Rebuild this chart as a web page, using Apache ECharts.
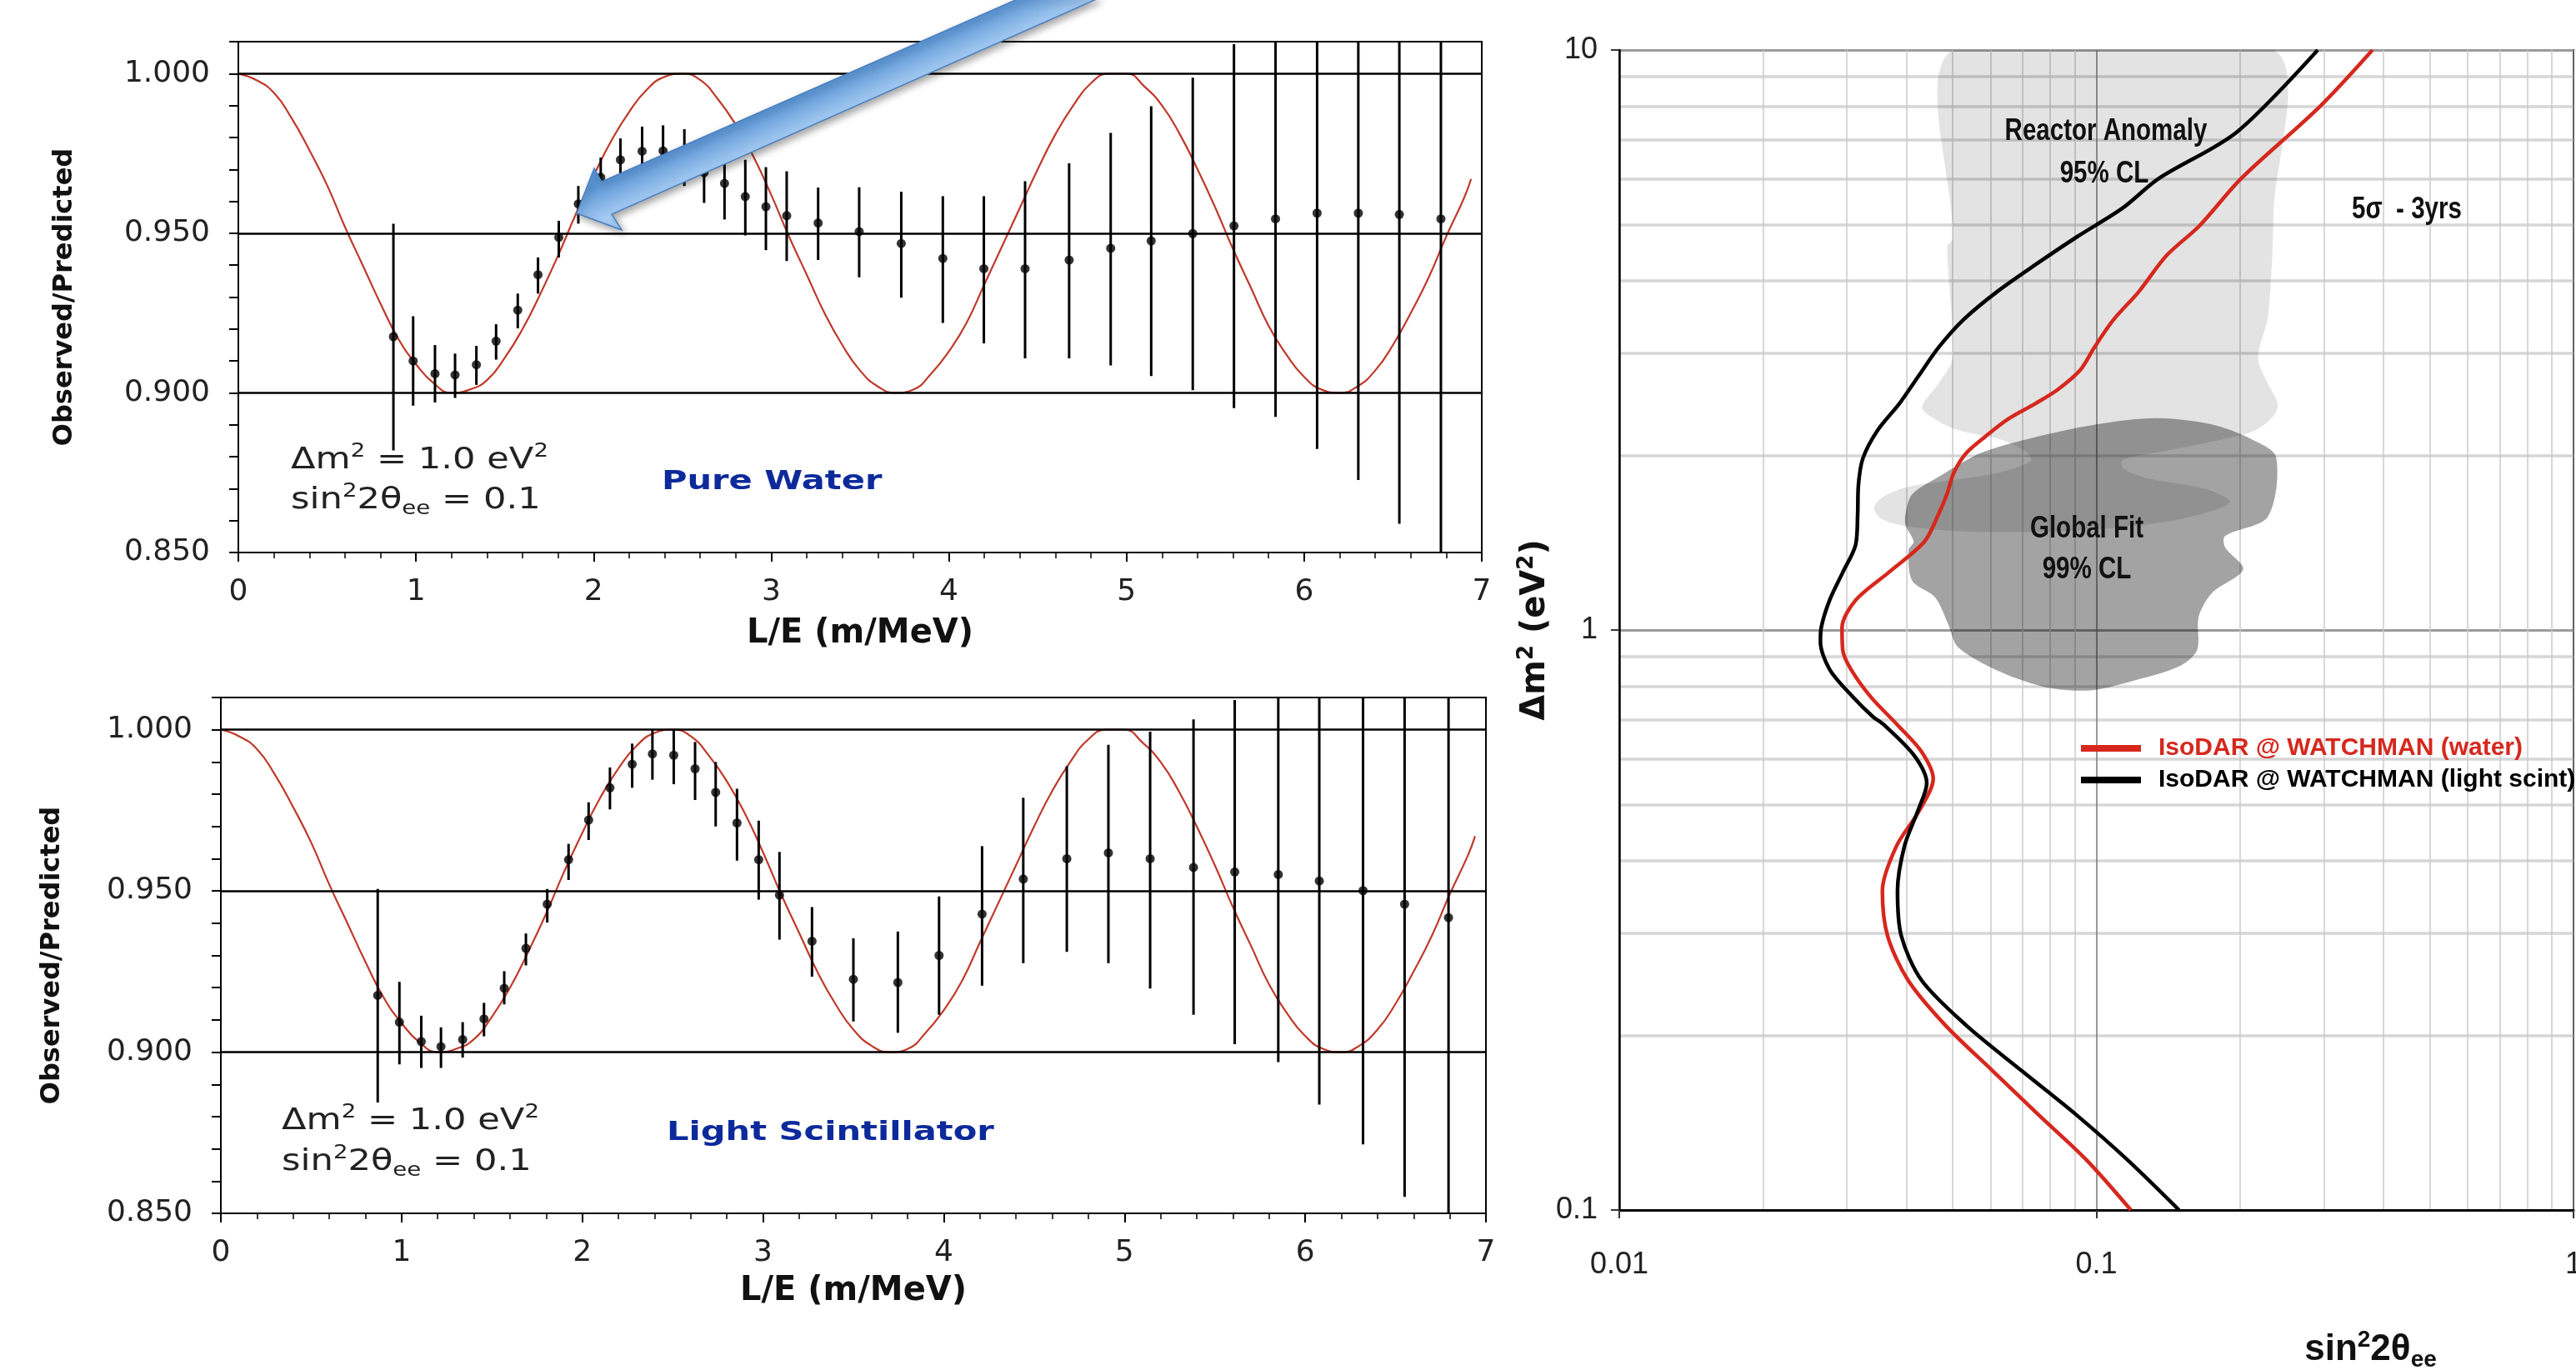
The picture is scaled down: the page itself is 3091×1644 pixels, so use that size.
<!DOCTYPE html>
<html>
<head>
<meta charset="utf-8">
<title>IsoDAR @ WATCHMAN</title>
<script src="https://cdn.jsdelivr.net/npm/echarts@6/dist/echarts.min.js"></script>
<style>
html, body { margin: 0; padding: 0; background: #fff; }
#chart { width: 3091px; height: 1644px; }
</style>
</head>
<body>
<div id="chart"></div>
<script>
// oscillation curve (same in both panels)
const curveLE = [0, 0.1, 0.2, 0.3, 0.4, 0.5, 0.6, 0.7, 0.8, 0.9,
  1.0, 1.1, 1.2, 1.3, 1.4, 1.5, 1.6, 1.7, 1.8, 1.9,
  2.0, 2.1, 2.2, 2.3, 2.4, 2.5, 2.6, 2.7, 2.8, 2.9,
  3.0, 3.1, 3.2, 3.3, 3.4, 3.5, 3.6, 3.7, 3.8, 3.9,
  4.0, 4.1, 4.2, 4.3, 4.4, 4.5, 4.6, 4.7, 4.8, 4.9,
  5.0, 5.1, 5.2, 5.3, 5.4, 5.5, 5.6, 5.7, 5.8, 5.9,
  6.0, 6.1, 6.2, 6.3, 6.4, 6.5, 6.6, 6.7, 6.8, 6.9, 6.94];
const curveRatio = [1.000, 0.998, 0.994, 0.986, 0.976, 0.965, 0.952, 0.940, 0.928, 0.917,
  0.909, 0.903, 0.900, 0.901, 0.904, 0.911, 0.920, 0.931, 0.943, 0.956,
  0.968, 0.979, 0.988, 0.995, 0.999, 1.000, 0.998, 0.992, 0.984, 0.974,
  0.962, 0.949, 0.937, 0.925, 0.915, 0.907, 0.902, 0.900, 0.901, 0.906,
  0.913, 0.922, 0.934, 0.946, 0.958, 0.970, 0.981, 0.990, 0.997, 1.000,
  1.000, 0.996, 0.990, 0.981, 0.970, 0.958, 0.945, 0.933, 0.921, 0.912,
  0.905, 0.901, 0.900, 0.902, 0.907, 0.915, 0.925, 0.936, 0.949, 0.961, 0.967];

// pure water points
const waterLE = [0.873, 0.984, 1.107, 1.220, 1.340, 1.451, 1.573, 1.687, 1.804, 1.914, 2.040, 2.151,
  2.273, 2.391, 2.511, 2.622, 2.737, 2.854, 2.970, 3.087, 3.264, 3.495, 3.732, 3.966,
  4.197, 4.429, 4.677, 4.911, 5.139, 5.373, 5.605, 5.839, 6.073, 6.305, 6.536, 6.770];
const waterRatio = [0.9176, 0.910, 0.906, 0.9056, 0.9088, 0.9162, 0.9259, 0.937, 0.9487, 0.9592, 0.9675, 0.973,
  0.9757, 0.9758, 0.9737, 0.969, 0.9656, 0.9615, 0.9583, 0.9555, 0.9532, 0.9505, 0.9468, 0.9421,
  0.9389, 0.9389, 0.9416, 0.9453, 0.9476, 0.9499, 0.9523, 0.9545, 0.9563, 0.9563, 0.9559, 0.9545];
const waterHigh = [0.953, 0.924, 0.915, 0.9123, 0.9147, 0.9215, 0.9311, 0.9424, 0.9539, 0.9648, 0.9737, 0.9797,
  0.9834, 0.9838, 0.9826, 0.9785, 0.977, 0.973, 0.9707, 0.9694, 0.9643, 0.9644, 0.963, 0.9616,
  0.9616, 0.9663, 0.9719, 0.9814, 0.9898, 0.9987, 1.0092, 1.0165, 1.030, 1.040, 1.053, 1.064];
const waterLow = [0.882, 0.896, 0.897, 0.8984, 0.9025, 0.9104, 0.9202, 0.9311, 0.9424, 0.953, 0.9615, 0.967,
  0.968, 0.9678, 0.9648, 0.9595, 0.9543, 0.9493, 0.9447, 0.9413, 0.9416, 0.9362, 0.9298, 0.9219,
  0.9155, 0.9108, 0.9108, 0.9086, 0.9053, 0.9008, 0.8952, 0.8925, 0.8824, 0.8727, 0.859, 0.845];

// light scintillator points
const scintLE = [0.868, 0.988, 1.109, 1.218, 1.338, 1.456, 1.568, 1.688, 1.806, 1.924, 2.035, 2.153,
  2.276, 2.388, 2.506, 2.624, 2.738, 2.856, 2.976, 3.091, 3.271, 3.500, 3.746, 3.974,
  4.212, 4.440, 4.681, 4.911, 5.142, 5.382, 5.610, 5.851, 6.078, 6.320, 6.550, 6.793];
const scintRatio = [0.9176, 0.9093, 0.9033, 0.9017, 0.9039, 0.9103, 0.9198, 0.9322, 0.9459, 0.9597, 0.972, 0.982,
  0.9893, 0.9925, 0.9921, 0.9879, 0.9806, 0.9711, 0.9597, 0.9487, 0.9344, 0.9226, 0.9216, 0.930,
  0.9428, 0.9537, 0.960, 0.9618, 0.960, 0.9573, 0.9559, 0.9551, 0.9531, 0.9501, 0.9459, 0.9417];
const scintHigh = [0.9506, 0.9218, 0.9113, 0.9077, 0.9093, 0.9153, 0.9251, 0.9368, 0.9506, 0.9646, 0.9775, 0.9883,
  0.9957, 1.0, 1.0, 0.9962, 0.990, 0.9817, 0.9718, 0.9621, 0.945, 0.9353, 0.9374, 0.9483,
  0.9639, 0.9789, 0.9887, 0.9953, 0.9994, 1.0032, 1.0092, 1.013, 1.0225, 1.029, 1.037, 1.040];
const scintLow = [0.8844, 0.8962, 0.8951, 0.8951, 0.8983, 0.9049, 0.9148, 0.9269, 0.9402, 0.9534, 0.9658, 0.9753,
  0.982, 0.9845, 0.9831, 0.9782, 0.970, 0.9594, 0.9473, 0.9349, 0.9234, 0.9095, 0.906, 0.9116,
  0.9206, 0.9276, 0.9311, 0.9276, 0.9197, 0.9116, 0.9025, 0.8969, 0.8837, 0.8714, 0.8551, 0.845];

const ratioTickLabels = ['0.850', '0.900', '0.950', '1.000'];
const ratioGridLines = [0.9, 0.95, 1.0];

// exclusion contours (sin^2 2theta, dm^2)
const waterContourX = [0.379, 0.294, 0.201, 0.1646, 0.1402, 0.1227, 0.1087, 0.0990, 0.0926, 0.0831,
  0.0747, 0.0653, 0.0587, 0.0534, 0.0503, 0.0486, 0.0467, 0.0436, 0.0367, 0.0313,
  0.0293, 0.0294, 0.0306, 0.0337, 0.0383, 0.0430, 0.0455, 0.0426, 0.0381, 0.0356,
  0.0365, 0.0403, 0.0483, 0.0605, 0.0756, 0.0953, 0.1181];
const waterContourY = [10, 7.99, 6.0, 4.98, 4.42, 3.83, 3.43, 3.07, 2.81, 2.60,
  2.46, 2.31, 2.16, 2.02, 1.870, 1.713, 1.585, 1.420, 1.257, 1.126,
  1.009, 0.924, 0.855, 0.766, 0.686, 0.617, 0.554, 0.489, 0.424, 0.355,
  0.297, 0.249, 0.208, 0.174, 0.146, 0.122, 0.1];
const scintContourX = [0.291, 0.197, 0.135, 0.1132, 0.0913, 0.0747, 0.0619, 0.0527, 0.0467, 0.0425,
  0.0387, 0.0348, 0.0324, 0.0317, 0.0316, 0.0313, 0.0294, 0.0276, 0.0265, 0.0264,
  0.0276, 0.0309, 0.0340, 0.0359, 0.0416, 0.0441, 0.0423, 0.0396, 0.0383, 0.0390,
  0.0430, 0.0534, 0.0696, 0.0907, 0.1162, 0.149];
const scintContourY = [10, 7.22, 6.0, 5.33, 4.77, 4.27, 3.83, 3.43, 3.07, 2.75,
  2.46, 2.21, 1.976, 1.770, 1.585, 1.404, 1.257, 1.126, 1.009, 0.955,
  0.855, 0.766, 0.709, 0.686, 0.606, 0.544, 0.489, 0.424, 0.355, 0.297,
  0.249, 0.208, 0.174, 0.146, 0.122, 0.1];

// allowed regions
const reactorX = [0.0500, 0.0500, 0.0487, 0.0500, 0.0468, 0.0431, 0.0459, 0.0513, 0.0631, 0.0717,
  0.0728, 0.0631, 0.0490, 0.0398, 0.0356, 0.0342, 0.0356, 0.0417, 0.0574, 0.0924,
  0.1376, 0.1746, 0.1905, 0.1692, 0.1270, 0.1136, 0.1136, 0.1376, 0.1746, 0.2147,
  0.2343, 0.2400, 0.2288, 0.2182, 0.2291, 0.2352, 0.2352];
const reactorY = [10, 4.74, 4.58, 2.95, 2.67, 2.42, 2.31, 2.21, 2.13, 2.02,
  1.955, 1.870, 1.809, 1.761, 1.693, 1.621, 1.551, 1.501, 1.476, 1.484,
  1.533, 1.603, 1.666, 1.751, 1.829, 1.901, 1.965, 2.031, 2.112, 2.207,
  2.332, 2.45, 2.66, 2.94, 3.49, 5.24, 10];
const globalX = [0.0398, 0.0411, 0.0474, 0.0574, 0.0717, 0.1000, 0.1332, 0.1746, 0.2113, 0.2380,
  0.2288, 0.1861, 0.1861, 0.2031, 0.1746, 0.1638, 0.1626, 0.1489, 0.1173, 0.0969,
  0.0788, 0.0631, 0.0513, 0.0490, 0.0459, 0.0411, 0.0404, 0.0414, 0.0398];
const globalY = [1.585, 1.713, 1.850, 2.021, 2.134, 2.262, 2.319, 2.262, 2.134, 1.988,
  1.568, 1.452, 1.389, 1.272, 1.158, 1.054, 0.924, 0.865, 0.814, 0.787,
  0.796, 0.846, 0.934, 1.020, 1.139, 1.217, 1.374, 1.420, 1.517];

const waterName = 'IsoDAR @ WATCHMAN (water)';
const scintName = 'IsoDAR @ WATCHMAN (light scint)';

const FONT_V = "'DejaVu Sans', Verdana, sans-serif";
const FONT_N = "'Liberation Sans', Arial, sans-serif";

function pairs(xs, ys) {
  return xs.map((x, i) => [x, ys[i]]);
}

function errorBarItem(yMin, yMax) {
  return function (params, api) {
    const x = api.value(0);
    const a = api.coord([x, Math.max(api.value(1), yMin)]);
    const b = api.coord([x, Math.min(api.value(2), yMax)]);
    return {
      type: 'line',
      shape: { x1: a[0], y1: a[1], x2: b[0], y2: b[1] },
      style: { stroke: '#000', lineWidth: 3 }
    };
  };
}

function regionItem(xs, ys, fill) {
  return function (params, api) {
    if (params.dataIndex !== 0) return null;
    const pts = xs.map((x, i) => api.coord([x, ys[i]]));
    return { type: 'polygon', shape: { points: pts, smooth: 0.3 }, style: { fill: fill } };
  };
}

function ratioXAxis(g) {
  return {
    gridIndex: g, type: 'value', min: 0, max: 7, interval: 1,
    axisLine: { show: true, onZero: false, lineStyle: { color: '#000', width: 2 } },
    axisTick: { show: true, length: 11, lineStyle: { color: '#000', width: 2 } },
    minorTick: { show: true, splitNumber: 5, length: 7, lineStyle: { color: '#000', width: 1.5 } },
    axisLabel: { margin: 30, fontFamily: FONT_V, fontSize: 36, color: '#222' },
    splitLine: { show: false },
    name: 'L/E (m/MeV)', nameLocation: 'middle', nameGap: g === 0 ? 78 : 74,
    nameTextStyle: { fontFamily: FONT_V, fontWeight: 'bold', fontSize: 40, color: '#111' }
  };
}

function ratioYAxis(g) {
  return {
    gridIndex: g, type: 'value', min: 0.85, max: 1.01, interval: 0.01,
    axisLine: { show: true, onZero: false, lineStyle: { color: '#000', width: 2 } },
    axisTick: { show: true, length: 11, lineStyle: { color: '#000', width: 2 } },
    axisLabel: {
      margin: 34, fontFamily: FONT_V, fontSize: 36, color: '#222',
      formatter: v => (ratioTickLabels.includes(v.toFixed(3)) ? v.toFixed(3) : '')
    },
    splitLine: { show: false },
    name: 'Observed/Predicted', nameLocation: 'middle', nameRotate: 90, nameGap: g === 0 ? 192 : 186,
    nameTextStyle: { fontFamily: FONT_V, fontWeight: 'bold', fontSize: 32, color: '#111' }
  };
}

function ratioSeries(g, le, ratio, lo, hi) {
  return [
    {
      type: 'line', xAxisIndex: g, yAxisIndex: g, data: pairs(curveLE, curveRatio),
      smooth: true, showSymbol: false, silent: true, z: 2,
      lineStyle: { color: '#c0392b', width: 2.2 },
      markLine: {
        silent: true, symbol: 'none', label: { show: false },
        lineStyle: { color: '#000', width: 2.5, type: 'solid' },
        data: ratioGridLines.map(v => ({ yAxis: v }))
      }
    },
    {
      type: 'custom', xAxisIndex: g, yAxisIndex: g, z: 3,
      data: le.map((x, i) => [x, lo[i], hi[i]]),
      encode: { x: 0, y: [1, 2] },
      renderItem: errorBarItem(0.85, 1.01)
    },
    {
      type: 'scatter', xAxisIndex: g, yAxisIndex: g, z: 4,
      data: pairs(le, ratio), symbolSize: 11,
      itemStyle: { color: '#000' }
    }
  ];
}

const richMain = (size, weight) => ({
  n: { fontFamily: FONT_V, fontSize: size, lineHeight: size + 8, fontWeight: weight, fill: '#222' },
  s: { fontFamily: FONT_V, fontSize: Math.round(size * 0.64), lineHeight: Math.round(size * 0.7), verticalAlign: 'top', fill: '#222' },
  b: { fontFamily: FONT_V, fontSize: Math.round(size * 0.64), lineHeight: Math.round(size * 0.7), verticalAlign: 'bottom', fill: '#222' }
});

function annot(x, y, text) {
  return {
    type: 'text', x: x, y: y, scaleX: 1.2, z: 50,
    style: { text: text, rich: richMain(36, 'normal'), align: 'left', verticalAlign: 'middle', fill: '#222' }
  };
}

function label(x, y, text, opts) {
  return {
    type: 'text', x: x, y: y, z: 50, scaleX: opts.scaleX || 0.82,
    style: {
      text: text, align: opts.align || 'center', verticalAlign: 'middle',
      fontFamily: opts.family || FONT_N, fontWeight: 'bold', fontSize: opts.size || 36,
      fill: opts.color || '#111'
    }
  };
}

const chart = echarts.init(document.getElementById('chart'));

const option = {
  animation: false,
  backgroundColor: '#fff',
  grid: [
    { left: 286, top: 50, width: 1492, height: 613, outerBoundsMode: 'none', show: true, borderColor: '#000', borderWidth: 2, backgroundColor: 'transparent' },
    { left: 265, top: 837, width: 1518, height: 619, outerBoundsMode: 'none', show: true, borderColor: '#000', borderWidth: 2, backgroundColor: 'transparent' },
    { left: 1943, top: 60, width: 1145, height: 1392, outerBoundsMode: 'none', show: true, borderColor: '#222', borderWidth: 2, backgroundColor: 'transparent' }
  ],
  xAxis: [
    ratioXAxis(0),
    ratioXAxis(1),
    {
      gridIndex: 2, type: 'log', logBase: 10, min: 0.01, max: 1,
      axisLine: { show: true, lineStyle: { color: '#000', width: 3 } },
      axisTick: { show: true, length: 10, lineStyle: { color: '#333', width: 2 } },
      minorTick: { show: false, splitNumber: 9 },
      axisLabel: {
        margin: 48, fontFamily: FONT_N, fontSize: 36, color: '#222',
        formatter: v => String(Number(v.toPrecision(2)))
      },
      splitLine: { show: true, lineStyle: { color: '#777', width: 1.5 } },
      minorSplitLine: { show: true, lineStyle: { color: '#cacaca', width: 1.5 } },
      name: '{a|sin}{s|2}{a|2θ}{b|ee}', nameLocation: 'middle', nameGap: 142,
      nameTextStyle: {
        padding: [0, 0, 0, 658],
        rich: {
          a: { fontFamily: FONT_N, fontWeight: 'bold', fontSize: 44, lineHeight: 52, color: '#111' },
          s: { fontFamily: FONT_N, fontWeight: 'bold', fontSize: 28, lineHeight: 28, verticalAlign: 'top', color: '#111' },
          b: { fontFamily: FONT_N, fontWeight: 'bold', fontSize: 28, lineHeight: 28, verticalAlign: 'bottom', color: '#111' }
        }
      }
    }
  ],
  yAxis: [
    ratioYAxis(0),
    ratioYAxis(1),
    {
      gridIndex: 2, type: 'log', logBase: 10, min: 0.1, max: 10,
      axisLine: { show: true, lineStyle: { color: '#000', width: 2.5 } },
      axisTick: { show: true, length: 10, lineStyle: { color: '#333', width: 2 } },
      minorTick: { show: false, splitNumber: 9 },
      axisLabel: {
        margin: 26, fontFamily: FONT_N, fontSize: 36, color: '#222',
        formatter: v => String(Number(v.toPrecision(2)))
      },
      splitLine: { show: true, lineStyle: { color: '#9a9a9a', width: 3 } },
      minorSplitLine: { show: true, lineStyle: { color: '#d6d6d6', width: 3.5 } },
      name: '{a|Δm}{s|2}{a| (eV}{s|2}{a|)}', nameLocation: 'middle', nameRotate: 90, nameGap: 68,
      nameTextStyle: {
        rich: {
          a: { fontFamily: FONT_V, fontWeight: 'bold', fontSize: 40, lineHeight: 48, color: '#111' },
          s: { fontFamily: FONT_V, fontWeight: 'bold', fontSize: 26, lineHeight: 26, verticalAlign: 'top', color: '#111' }
        }
      }
    }
  ],
  legend: {
    left: 2492, top: 878, orient: 'vertical', itemWidth: 72, itemHeight: 8, itemGap: 8,
    icon: 'rect', selectedMode: false,
    textStyle: { fontFamily: FONT_N, fontWeight: 'bold', fontSize: 30, padding: [6, 0, 0, 16] },
    data: [
      { name: waterName, textStyle: { color: '#d6281e' } },
      { name: scintName, textStyle: { color: '#000' } }
    ]
  },
  series: [
    ...ratioSeries(0, waterLE, waterRatio, waterLow, waterHigh),
    ...ratioSeries(1, scintLE, scintRatio, scintLow, scintHigh),
    {
      type: 'custom', xAxisIndex: 2, yAxisIndex: 2, z: 1, clip: true, silent: true,
      data: pairs(reactorX, reactorY), encode: { x: 0, y: 1 },
      renderItem: regionItem(reactorX, reactorY, 'rgba(0,0,0,0.11)')
    },
    {
      type: 'custom', xAxisIndex: 2, yAxisIndex: 2, z: 1, clip: true, silent: true,
      data: pairs(globalX, globalY), encode: { x: 0, y: 1 },
      renderItem: regionItem(globalX, globalY, 'rgba(0,0,0,0.36)')
    },
    {
      name: waterName, type: 'line', xAxisIndex: 2, yAxisIndex: 2, z: 5,
      data: pairs(waterContourX, waterContourY), smooth: 0.3, showSymbol: false,
      color: '#d6281e', lineStyle: { color: '#d6281e', width: 4.5 }
    },
    {
      name: scintName, type: 'line', xAxisIndex: 2, yAxisIndex: 2, z: 5,
      data: pairs(scintContourX, scintContourY), smooth: 0.3, showSymbol: false,
      color: '#000', lineStyle: { color: '#000', width: 4.5 }
    }
  ],
  graphic: [
    // big blue arrow pointing at the water data
    {
      type: 'polygon', z: 100,
      shape: { points: [[1223, -2], [1318, -2], [734, 257], [746, 276], [692, 256], [713, 202], [722, 218]] },
      style: {
        fill: {
          type: 'linear', x: 1000, y: 97, x2: 1016, y2: 133, global: true,
          colorStops: [{ offset: 0, color: '#5a94d4' }, { offset: 1, color: '#a6ccf3' }]
        },
        stroke: '#4a80c2', lineWidth: 1.5,
        shadowBlur: 8, shadowColor: 'rgba(0,0,0,0.35)', shadowOffsetX: 3, shadowOffsetY: 4
      }
    },
    annot(349, 553, '{n|Δm}{s|2}{n| = 1.0 eV}{s|2}'),
    annot(349, 601, '{n|sin}{s|2}{n|2θ}{b|ee}{n| = 0.1}'),
    annot(338, 1346, '{n|Δm}{s|2}{n| = 1.0 eV}{s|2}'),
    annot(338, 1395, '{n|sin}{s|2}{n|2θ}{b|ee}{n| = 0.1}'),
    label(794, 579, 'Pure Water', { align: 'left', family: FONT_V, size: 32, color: '#0d2a9b', scaleX: 1.3 }),
    label(800, 1360, 'Light Scintillator', { align: 'left', family: FONT_V, size: 32, color: '#0d2a9b', scaleX: 1.3 }),
    label(2527, 158, 'Reactor Anomaly', {}),
    label(2525, 209, '95% CL', {}),
    label(2888, 252, '5σ  - 3yrs', {}),
    label(2504, 635, 'Global Fit', {}),
    label(2504, 684, '99% CL', {})
  ]
};

chart.setOption(option);
window.addEventListener('resize', function () {
  chart.resize();
});
</script>
</body>
</html>
